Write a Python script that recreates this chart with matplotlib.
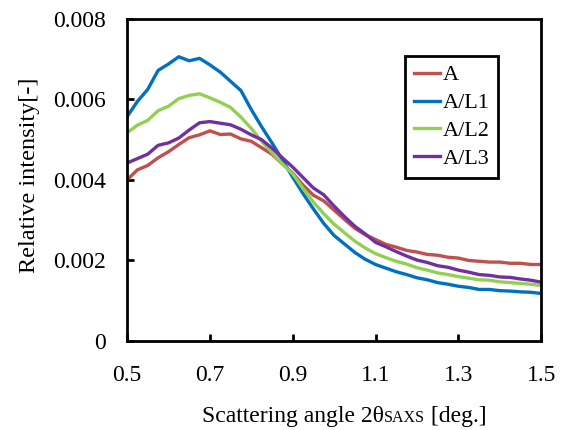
import matplotlib
matplotlib.use("Agg")
import numpy as np
from matplotlib import pyplot as plt

plt.rcParams['font.family'] = ['Liberation Serif', 'DejaVu Serif']

# scattering angle grid
angle = [0.500, 0.525, 0.550, 0.575, 0.600, 0.625, 0.650, 0.675, 0.700, 0.725,
         0.750, 0.775, 0.800, 0.825, 0.850, 0.875, 0.900, 0.925, 0.950, 0.975,
         1.000, 1.025, 1.050, 1.075, 1.100, 1.125, 1.150, 1.175, 1.200, 1.225,
         1.250, 1.275, 1.300, 1.325, 1.350, 1.375, 1.400, 1.425, 1.450, 1.475,
         1.500]

# relative intensity (x 1e-3)
a = [4.00, 4.25, 4.36, 4.55, 4.70, 4.88, 5.05, 5.12, 5.22, 5.13,
     5.14, 5.02, 4.96, 4.80, 4.64, 4.40, 4.17, 3.87, 3.62, 3.48,
     3.25, 3.02, 2.80, 2.64, 2.52, 2.40, 2.33, 2.25, 2.21, 2.15,
     2.13, 2.08, 2.06, 2.00, 1.98, 1.96, 1.96, 1.93, 1.93, 1.90,
     1.90]
a_l1 = [5.57, 5.95, 6.25, 6.72, 6.88, 7.06, 6.96, 7.02, 6.86, 6.68,
        6.45, 6.22, 5.75, 5.32, 4.92, 4.50, 4.07, 3.66, 3.28, 2.92,
        2.62, 2.41, 2.20, 2.03, 1.90, 1.81, 1.72, 1.65, 1.57, 1.52,
        1.45, 1.41, 1.36, 1.33, 1.28, 1.28, 1.25, 1.24, 1.22, 1.21,
        1.18]
a_l2 = [5.17, 5.36, 5.48, 5.72, 5.83, 6.02, 6.10, 6.14, 6.04, 5.93,
        5.80, 5.56, 5.28, 4.96, 4.68, 4.40, 4.15, 3.79, 3.45, 3.16,
        2.90, 2.69, 2.48, 2.31, 2.17, 2.07, 1.98, 1.91, 1.82, 1.76,
        1.69, 1.65, 1.60, 1.56, 1.52, 1.51, 1.47, 1.45, 1.43, 1.41,
        1.38]
a_l3 = [4.42, 4.53, 4.64, 4.86, 4.92, 5.04, 5.24, 5.42, 5.45, 5.41,
        5.37, 5.26, 5.12, 5.00, 4.79, 4.55, 4.32, 4.06, 3.80, 3.63,
        3.35, 3.09, 2.85, 2.66, 2.45, 2.34, 2.22, 2.11, 2.01, 1.95,
        1.87, 1.83, 1.76, 1.71, 1.65, 1.63, 1.59, 1.58, 1.54, 1.51,
        1.46]

labels = ["A", "A/L1", "A/L2", "A/L3"]
colors = ["#C0504D", "#0070C0", "#92D050", "#7030A0"]
series = [a, a_l1, a_l2, a_l3]

fig = plt.figure(figsize=(5.62, 4.30), dpi=100)
ax = fig.add_axes([0.226, 0.207, 0.737, 0.749])

for y, lab, c in zip(series, labels, colors):
    ax.plot(angle, np.array(y) * 1e-3, color=c, lw=2.4, label=lab)

ax.set_xlim(0.5, 1.5)
ax.set_ylim(0, 0.008)
ax.set_xticks([0.5, 0.7, 0.9, 1.1, 1.3, 1.5])
ax.set_xticklabels(["0.5", "0.7", "0.9", "1.1", "1.3", "1.5"])
ax.set_yticks([0, 0.002, 0.004, 0.006, 0.008])
ax.set_yticklabels(["0", "0.002", "0.004", "0.006", "0.008"])
ax.tick_params(direction='in', length=5, width=2, labelsize=17)
ax.tick_params(axis='x', pad=17)
ax.tick_params(axis='y', pad=15)
for s in ax.spines.values():
    s.set_linewidth(2)

# y label
fig.text(0.052, 1 - 175 / 430, "Relative intensity[-]", rotation=90, fontsize=17.5,
         ha='center', va='center')

# x label in three pieces, "SAXS" in small caps on the baseline
fig.canvas.draw()
r = fig.canvas.get_renderer()
x0 = 202 / 562
yb = 1 - 422 / 430
parts = [("Scattering angle 2θ", 17), ("SAXS", 11.5), (" [deg.]", 17)]
for txt, fs in parts:
    t = fig.text(x0, yb, txt, fontsize=fs, ha='left', va='baseline')
    bb = t.get_window_extent(renderer=r)
    x0 = x0 + bb.width / fig.bbox.width

leg = ax.legend(loc='upper left', bbox_to_anchor=(0.671, 0.885), borderaxespad=0,
                fontsize=16, handlelength=1.2, handletextpad=0.1,
                labelspacing=0.33, borderpad=0.4, fancybox=False, framealpha=1)
leg.get_frame().set_edgecolor('black')
leg.get_frame().set_linewidth(2)

fig.savefig("out.png", dpi=100)
